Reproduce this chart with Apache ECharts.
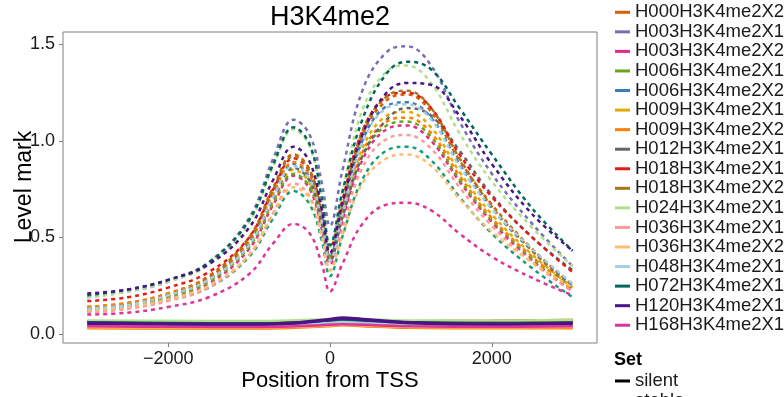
<!DOCTYPE html>
<html lang="en">
<head>
    <meta charset="UTF-8">
    <title>H3K4me2</title>
    <script src="https://cdn.jsdelivr.net/npm/echarts@6/dist/echarts.min.js"></script>
    <style>
        *{
            padding: 0;
            margin: 0;
        }
        html ,body{
            width: 100%;
            height: 100%;
            background: #fff;
        }
        .echarts{
            width: 784px;
            height: 397px;
        }
    </style>
</head>
<body>
<div class="echarts"></div>
<script>
    const xActive = [-3000,-2500,-2000,-1500,-1000,-700,-450,-250,-100,0,150,400,700,950,1250,1600,2000,2500,3000];
    const xSilent = [-3000,-2000,-1000,-500,0,150,400,1000,2000,3000];

    const samples = ['H000H3K4me2X1','H000H3K4me2X2','H003H3K4me2X1','H003H3K4me2X2','H006H3K4me2X1','H006H3K4me2X2',
        'H009H3K4me2X1','H009H3K4me2X2','H012H3K4me2X1','H018H3K4me2X1','H018H3K4me2X2','H024H3K4me2X1',
        'H036H3K4me2X1','H036H3K4me2X2','H048H3K4me2X1','H072H3K4me2X1','H120H3K4me2X1','H168H3K4me2X1'];
    const colors = ['#1b9e77','#d95f02','#7570b3','#e7298a','#66a61e','#377eb8',
        '#e6ab02','#ff7f00','#666666','#e41a1c','#a6761d','#b2df8a',
        '#fb9a99','#fdbf6f','#a6cee3','#01665e','#4a1486','#dd3497'];

    // "stable" set (dashed)
    const stableH000X1 = [.12,.14,.18,.24,.40,.60,.74,.67,.48,.30,.50,.80,.95,.97,.90,.71,.52,.34,.19];
    const stableH000X2 = [.14,.16,.21,.30,.50,.76,.93,.85,.61,.40,.65,1.03,1.21,1.24,1.15,.90,.67,.44,.25];
    const stableH003X1 = [.19,.22,.27,.37,.60,.91,1.11,1.03,.78,.56,.84,1.26,1.46,1.49,1.39,1.10,.83,.57,.35];
    const stableH003X2 = [.12,.14,.18,.26,.44,.67,.82,.75,.54,.36,.58,.90,1.06,1.08,1.00,.79,.58,.38,.22];
    const stableH006X1 = [.13,.15,.19,.27,.45,.68,.83,.76,.56,.38,.60,.92,1.08,1.10,1.02,.80,.59,.39,.22];
    const stableH006X2 = [.13,.15,.20,.28,.47,.72,.88,.81,.59,.40,.64,1.00,1.18,1.20,1.12,.88,.65,.43,.25];
    const stableH009X1 = [.14,.16,.20,.28,.46,.69,.85,.78,.57,.38,.61,.96,1.13,1.15,1.07,.84,.62,.41,.24];
    const stableH009X2 = [.14,.16,.21,.29,.48,.73,.89,.82,.60,.40,.62,.94,1.10,1.12,1.04,.82,.60,.40,.23];
    const stableH012X1 = [.13,.15,.20,.28,.46,.70,.86,.79,.57,.38,.60,.92,1.11,1.17,1.13,.95,.72,.50,.33];
    const stableH018X1 = [.17,.19,.24,.32,.50,.75,.91,.84,.63,.45,.69,1.05,1.23,1.25,1.17,.93,.71,.50,.32];
    const stableH018X2 = [.13,.15,.20,.29,.49,.75,.92,.84,.61,.40,.66,1.05,1.23,1.26,1.17,.91,.66,.43,.23];
    const stableH024X1 = [.19,.22,.27,.36,.58,.87,1.06,.97,.69,.45,.73,1.16,1.36,1.39,1.30,1.04,.79,.55,.35];
    const stableH036X1 = [.11,.13,.17,.24,.41,.63,.78,.71,.51,.33,.54,.86,1.01,1.03,.96,.76,.56,.37,.22];
    const stableH036X2 = [.12,.14,.18,.25,.41,.62,.76,.70,.50,.33,.51,.78,.91,.93,.87,.70,.53,.37,.24];
    const stableH048X1 = [.13,.15,.20,.28,.46,.71,.87,.80,.58,.38,.62,.99,1.17,1.19,1.11,.87,.65,.44,.26];
    const stableH072X1 = [.20,.23,.28,.37,.59,.88,1.07,.98,.70,.46,.73,1.11,1.35,1.41,1.37,1.17,.93,.65,.43];
    const stableH120X1 = [.21,.23,.28,.36,.55,.80,.97,.89,.64,.42,.67,1.03,1.25,1.30,1.29,1.13,.88,.62,.43];
    const stableH168X1 = [.10,.11,.14,.19,.31,.47,.57,.52,.36,.22,.36,.57,.67,.68,.64,.52,.40,.29,.20];

    // "silent" set (solid)
    const silentH000X1 = [.060,.058,.057,.060,.068,.072,.068,.060,.057,.060];
    const silentH000X2 = [.040,.038,.037,.040,.048,.052,.048,.040,.037,.040];
    const silentH003X1 = [.050,.048,.047,.050,.060,.065,.060,.050,.047,.050];
    const silentH003X2 = [.040,.038,.037,.040,.050,.055,.050,.040,.038,.040];
    const silentH006X1 = [.065,.062,.060,.063,.072,.076,.072,.064,.062,.065];
    const silentH006X2 = [.050,.048,.047,.050,.058,.062,.058,.050,.048,.050];
    const silentH009X1 = [.035,.033,.032,.035,.043,.047,.043,.036,.033,.035];
    const silentH009X2 = [.030,.028,.028,.031,.040,.045,.040,.032,.029,.030];
    const silentH012X1 = [.055,.053,.052,.055,.063,.067,.063,.055,.053,.055];
    const silentH018X1 = [.065,.063,.062,.065,.070,.073,.070,.066,.068,.072];
    const silentH018X2 = [.045,.043,.042,.045,.053,.057,.053,.045,.043,.045];
    const silentH024X1 = [.070,.068,.067,.070,.077,.080,.077,.070,.070,.074];
    const silentH036X1 = [.040,.038,.037,.040,.047,.050,.047,.040,.038,.040];
    const silentH036X2 = [.035,.033,.033,.036,.044,.048,.044,.036,.034,.036];
    const silentH048X1 = [.055,.052,.050,.053,.060,.063,.060,.053,.050,.052];
    const silentH072X1 = [.060,.057,.055,.058,.070,.075,.070,.060,.056,.058];
    const silentH120X1 = [.055,.052,.050,.055,.075,.082,.075,.058,.050,.055];
    const silentH168X1 = [.040,.037,.036,.039,.047,.050,.047,.040,.037,.040];

    const stableValues = [stableH000X1,stableH000X2,stableH003X1,stableH003X2,stableH006X1,stableH006X2,
        stableH009X1,stableH009X2,stableH012X1,stableH018X1,stableH018X2,stableH024X1,
        stableH036X1,stableH036X2,stableH048X1,stableH072X1,stableH120X1,stableH168X1];
    const silentValues = [silentH000X1,silentH000X2,silentH003X1,silentH003X2,silentH006X1,silentH006X2,
        silentH009X1,silentH009X2,silentH012X1,silentH018X1,silentH018X2,silentH024X1,
        silentH036X1,silentH036X2,silentH048X1,silentH072X1,silentH120X1,silentH168X1];

    const xTicks = [-2000, 0, 2000];
    const yTicks = [0, 0.5, 1, 1.5];

    window.onload=function () {
        let main=document.querySelector('.echarts');
        let myCharts=echarts.init(main);
        const font = "'Liberation Sans', Arial, sans-serif";
        let series=[];

        samples.forEach((name,i)=>{
            series.push({
                name,
                type:'line',
                silent:true,
                symbol:'none',
                smooth:0.4,
                data:xActive.map((x,j)=>[x,stableValues[i][j]]),
                lineStyle:{color:colors[i],width:2.5,type:[4,4]},
                itemStyle:{color:colors[i]}
            });
        });
        samples.forEach((name,i)=>{
            series.push({
                name,
                type:'line',
                silent:true,
                symbol:'none',
                smooth:0.4,
                data:xSilent.map((x,j)=>[x,silentValues[i][j]]),
                lineStyle:{color:colors[i],width:i==16 ? 3.5 : 2.5},
                itemStyle:{color:colors[i]}
            });
        });
        // dummies for the "Set" legend
        series.push({name:'silent',type:'line',data:[],lineStyle:{color:'#000'},itemStyle:{color:'#000'}});
        series.push({name:'stable',type:'line',data:[],lineStyle:{color:'#000',type:'dashed'},itemStyle:{color:'#000'}});

        let legendText={fontSize:18.5,lineHeight:19.56,color:'#1a1a1a',fontFamily:font};

        let option={
            animation:false,
            backgroundColor:'#fff',
            textStyle:{fontFamily:font},
            grid:{left:63,right:187,top:32,bottom:54,outerBoundsMode:'none',containLabel:false,
                show:true,borderColor:'#7f7f7f',borderWidth:1,backgroundColor:'#fff'},
            graphic:[
                {type:'text',x:330,y:18,style:{text:'H3K4me2',fontSize:27,fontFamily:font,fill:'#000',textAlign:'center',textVerticalAlign:'middle'}},
                {type:'text',x:330,y:381,style:{text:'Position from TSS',fontSize:22,fontFamily:font,fill:'#000',textAlign:'center',textVerticalAlign:'middle'}},
                {type:'text',x:25,y:187,rotation:Math.PI/2,style:{text:'Level mark',fontSize:23,fontFamily:font,fill:'#000',textAlign:'center',textVerticalAlign:'middle'}},
                {type:'text',x:614,y:360,style:{text:'Set',fontSize:18,fontWeight:'bold',fontFamily:font,fill:'#000',textVerticalAlign:'middle'}}
            ],
            legend:[
                {orient:'vertical',left:615,top:2.5,padding:0,itemWidth:15,itemHeight:3,itemGap:0,icon:'rect',
                    selectedMode:false,textStyle:legendText,data:samples.slice(1)},
                {orient:'vertical',left:615,top:371.2,height:80,padding:0,itemWidth:15,itemHeight:3,itemGap:0,icon:'rect',
                    selectedMode:false,textStyle:legendText,data:['silent','stable']}
            ],
            xAxis:{
                type:'value',
                min:-3300,
                max:3300,
                splitLine:{show:false},
                axisLine:{show:false,onZero:false},
                axisTick:{show:true,length:4,customValues:xTicks,lineStyle:{color:'#7f7f7f'}},
                axisLabel:{customValues:xTicks,fontSize:18,color:'#1a1a1a',margin:7,
                    formatter:v=>v<0 ? '\u2212'+Math.abs(v) : String(v)}
            },
            yAxis:{
                type:'value',
                min:-0.047,
                max:1.564,
                splitLine:{show:false},
                axisLine:{show:false,onZero:false},
                axisTick:{show:true,length:4,customValues:yTicks,lineStyle:{color:'#7f7f7f'}},
                axisLabel:{customValues:yTicks,fontSize:18,color:'#1a1a1a',margin:8,
                    formatter:v=>v.toFixed(1)}
            },
            series
        };
        myCharts.setOption(option);
    }
</script>
</body>
</html>
